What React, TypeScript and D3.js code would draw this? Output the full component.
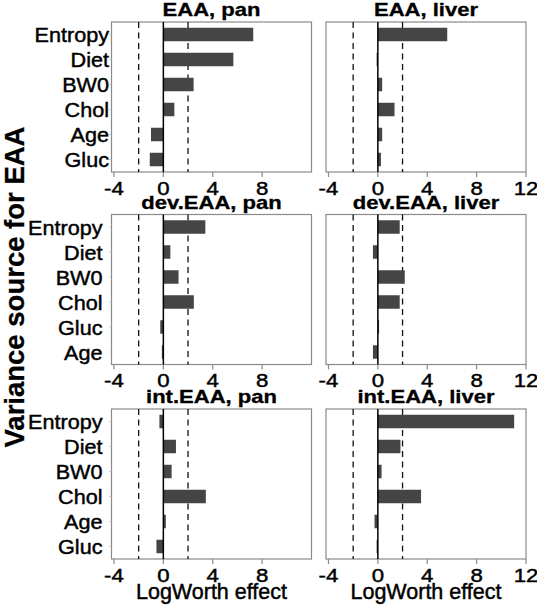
import React from "react";
import * as d3 from "d3";

const panelTitles = ["EAA, pan", "EAA, liver", "dev.EAA, pan", "dev.EAA, liver", "int.EAA, pan", "int.EAA, liver"];
const catsEAA = ["Entropy", "Diet", "BW0", "Chol", "Age", "Gluc"];
const catsDev = ["Entropy", "Diet", "BW0", "Chol", "Gluc", "Age"];
const catsInt = ["Entropy", "Diet", "BW0", "Chol", "Age", "Gluc"];
const eaaPan = [7.28, 5.67, 2.45, 0.89, -1.0, -1.1];
const eaaLiver = [5.62, -0.1, 0.35, 1.35, 0.35, 0.25];
const devPan = [3.4, 0.57, 1.23, 2.47, -0.25, -0.12];
const devLiver = [1.77, -0.4, 2.18, 1.77, 0.1, -0.4];
const intPan = [-0.32, 1.02, 0.67, 3.44, 0.2, -0.56];
const intLiver = [11.04, 1.83, 0.3, 3.5, -0.27, -0.1];
const ticksLeft = [-4, 0, 4, 8];
const ticksRight = [-4, 0, 4, 8, 12];
const thresholds = [-2, 2];
const xDomain = [-4.2, 12];
const xLabel = "LogWorth effect";
const yLabel = "Variance source for EAA";

const rowCats = [catsEAA, catsDev, catsInt];
const panelValues = [eaaPan, eaaLiver, devPan, devLiver, intPan, intLiver];

const FONT = "'Liberation Sans', Arial, Helvetica, sans-serif";
const colX = [111.5, 326];
const rowY = [22, 214.5, 409];
const PW = 200;
const PH = 150;
const labelGap = [2.5, 9, 9];
const FRAME = "#8a8a8a";
const BAR = "#454545";
const TXT_STROKE = 0.45;

function Panel({ idx }: { idx: number }) {
  const col = idx % 2;
  const row = Math.floor(idx / 2);
  const x0 = colX[col];
  const y0 = rowY[row];
  const cats = rowCats[row];
  const vals = panelValues[idx];
  const x = d3.scaleLinear().domain(xDomain).range([x0, x0 + PW]);
  const y = d3.scaleBand<string>().domain(cats).range([y0, y0 + PH]).paddingInner(0.46).paddingOuter(0.23);
  const ticks = col === 0 ? ticksLeft : ticksRight;
  const bottom = y0 + PH;
  return (
    <g>
      <text
        transform={`translate(${x0 + PW / 2},${y0 - 6}) scale(1.26,1)`}
        textAnchor="middle"
        fontFamily={FONT}
        fontWeight="bold"
        fontSize={17.5}
        stroke="#000"
        strokeWidth={0.3}
      >
        {panelTitles[idx]}
      </text>
      <rect x={x0} y={y0} width={PW} height={PH} fill="white" stroke={FRAME} strokeWidth={1.2} />
      {thresholds.map((t) => (
        <line key={t} x1={x(t)} x2={x(t)} y1={y0} y2={bottom} stroke="#111" strokeWidth={1.3} strokeDasharray="6,4.5" />
      ))}
      {cats.map((c, i) => {
        const v = vals[i];
        return (
          <rect
            key={c}
            x={Math.min(x(0), x(v))}
            y={y(c)}
            width={Math.abs(x(v) - x(0))}
            height={y.bandwidth()}
            fill={BAR}
          />
        );
      })}
      <line x1={x(0)} x2={x(0)} y1={y0} y2={bottom} stroke="#000" strokeWidth={1.5} />
      {col === 0 &&
        cats.map((c) => (
          <g key={c}>
            <line x1={x0 - 2} x2={x0} y1={(y(c) as number) + y.bandwidth() / 2} y2={(y(c) as number) + y.bandwidth() / 2} stroke="#bbb" />
            <text
              transform={`translate(${x0 - labelGap[row]},${(y(c) as number) + y.bandwidth() / 2 + 7.5}) scale(1.03,1)`}
              textAnchor="end"
              fontFamily={FONT}
              fontSize={21}
              stroke="#000"
              strokeWidth={TXT_STROKE}
            >
              {c}
            </text>
          </g>
        ))}
      {ticks.map((t) => (
        <g key={t}>
          <line x1={x(t)} x2={x(t)} y1={bottom} y2={bottom + 5} stroke={FRAME} strokeWidth={1.2} />
          <text
            transform={`translate(${x(t)},${bottom + 22.5}) scale(1.2,1)`}
            textAnchor="middle"
            fontFamily={FONT}
            fontSize={18.5}
            stroke="#000"
            strokeWidth={TXT_STROKE}
          >
            {t}
          </text>
        </g>
      ))}
      {row === 2 && (
        <text
          x={x0 + PW / 2}
          y={bottom + 40}
          textAnchor="middle"
          fontFamily={FONT}
          fontSize={21.5}
          stroke="#000"
          strokeWidth={TXT_STROKE}
        >
          {xLabel}
        </text>
      )}
    </g>
  );
}

export default function App() {
  return (
    <svg
      width={537}
      height={606}
      style={{ position: "absolute", left: 0, top: 0, background: "white" }}
    >
      <rect x={0} y={0} width={537} height={606} fill="white" />
      {panelTitles.map((_, i) => (
        <Panel key={i} idx={i} />
      ))}
      <text
        transform={`translate(24,287) rotate(-90)`}
        textAnchor="middle"
        fontFamily={FONT}
        fontWeight="bold"
        fontSize={27.5}
        stroke="#000"
        strokeWidth={0.3}
      >
        {yLabel}
      </text>
    </svg>
  );
}
